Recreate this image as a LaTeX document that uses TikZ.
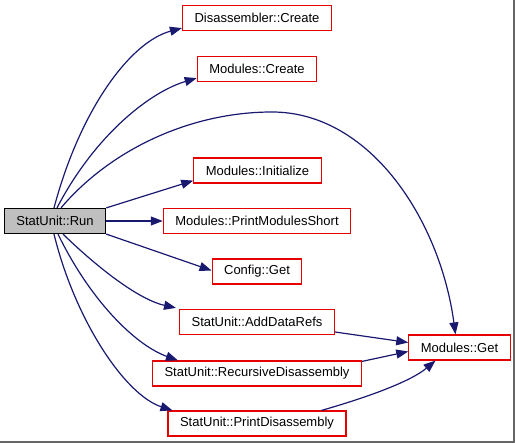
\documentclass[tikz,border=0pt]{standalone}
\usepackage{fontspec}
\setmainfont{Liberation Sans}
\usetikzlibrary{arrows.meta}
\definecolor{edgeblue}{RGB}{25,25,112}
\definecolor{boxred}{RGB}{230,0,0}

\begin{document}
\begin{tikzpicture}[x=1pt, y=-1pt,
    every node/.style={font=\fontsize{13}{15}\selectfont, inner xsep=12pt, inner ysep=0pt, minimum height=25pt, line width=1.2pt},
    fn/.style={draw=boxred, fill=white},
    root/.style={draw=black, fill=black!25},
    call/.style={draw=edgeblue, line width=1.2pt, -{Triangle[length=12pt,width=9pt]}},]

\useasboundingbox (0,0) rectangle (515,443);
\draw [black!60, line width=1.6pt] (514,0) -- (514,442) -- (0,442);

\node[root] (run) at (55,221) {StatUnit::Run};

\node[fn] (dcreate) at (257,18) {Disassembler::Create};
\node[fn] (mcreate) at (257,69) {Modules::Create};
\node[fn] (minit) at (257.5,170.5) {Modules::Initialize};
\node[fn] (mprint) at (257,221) {Modules::PrintModulesShort};
\node[fn] (cget) at (257,271.5) {Config::Get};
\node[fn] (adddata) at (257,322) {StatUnit::AddDataRefs};
\node[fn] (recdis) at (257,373.5) {StatUnit::RecursiveDisassembly};
\node[fn] (printdis) at (257,423.5) {StatUnit::PrintDisassembly};
\node[fn] (mget) at (459.5,347.5) {Modules::Get};

% calls out of Run
\draw[call] ([xshift=-1pt]run.north) .. controls (80,110) and (130,42) .. ([yshift=3pt]dcreate.south west);
\draw[call] ([xshift=2pt]run.north) .. controls (95,135) and (150,92) .. ([yshift=4pt]mcreate.south west);
\draw[call] ([xshift=6pt]run.north) .. controls (110,150) and (190,112) .. (272,112)
    .. controls (370,112) and (440,220) .. ([xshift=-4pt]mget.north);
\draw[call] (run.north east) -- ([yshift=3pt]minit.south west);
\draw[call] (run.east) -- (mprint.west);
\draw[call] (run.south east) -- ([yshift=1pt]cget.west);
\draw[call] ([xshift=8pt]run.south) .. controls (100,270) and (140,300) .. ([xshift=-3pt,yshift=1pt]adddata.north west);
\draw[call] ([xshift=3pt]run.south) .. controls (90,300) and (135,345) .. ([xshift=26pt]recdis.north west);
\draw[call] ([xshift=-1pt]run.south) .. controls (75,320) and (125,395) .. ([xshift=5pt]printdis.north west);

% calls into Modules::Get
\draw[call] ([yshift=-10pt]adddata.east) -- ([yshift=5pt]mget.west);
\draw[call] ([yshift=-1pt]recdis.north east) -- ([yshift=-4pt]mget.west);
\draw[call] ([xshift=-25pt]printdis.north east) .. controls (365,398) and (410,382) .. ([xshift=-24pt]mget.south);

\end{tikzpicture}
\end{document}
